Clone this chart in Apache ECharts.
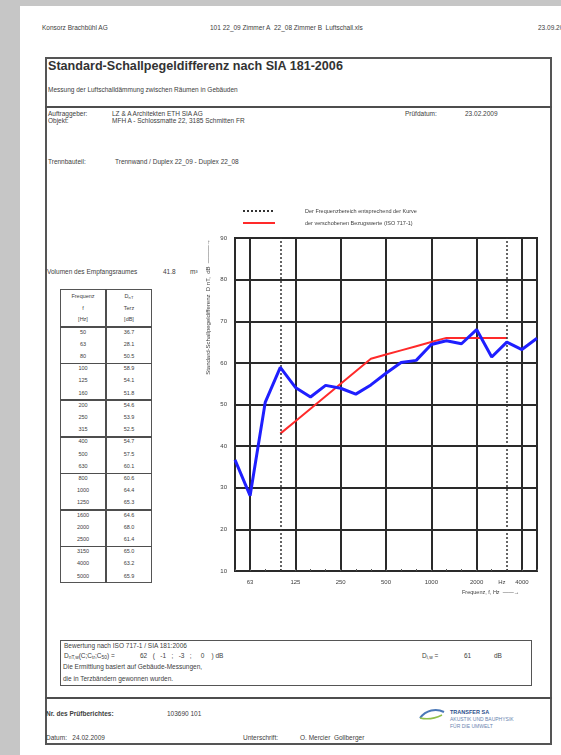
<!DOCTYPE html>
<html>
<head>
<meta charset="utf-8">
<script src="https://cdn.jsdelivr.net/npm/echarts@6/dist/echarts.min.js"></script>
<style>
  body { margin: 0; width: 561px; height: 755px; background: #c6c6c6; font-family: "Liberation Sans", Arial, sans-serif; color: #404040; overflow: hidden; }
  #page { position: absolute; left: 20px; top: 6px; width: 541px; height: 749px; background: #fff; }
  .t { position: absolute; font-size: 6.5px; line-height: 1; white-space: nowrap; }
  .c { transform: translateX(-50%); }
  .ln { position: absolute; background: #4e4e4e; }
  .box { position: absolute; box-sizing: border-box; border: 2px solid #555; }
  sub { font-size: 0.75em; vertical-align: -0.25em; }
  #chart { position: absolute; left: 0; top: 0; width: 561px; height: 755px; }
</style>
</head>
<body>
<div id="page"></div>

<!-- page header -->
<div class="t" style="left:42px;top:25px">Konsorz Brachbühl AG</div>
<div class="t" style="left:210px;top:25px">101 22_09 Zimmer A&nbsp;&nbsp;22_08 Zimmer B&nbsp;&nbsp;Luftschall.xls</div>
<div class="t" style="left:538px;top:25px">23.09.2009</div>

<!-- frame -->
<div class="box" style="left:45px;top:57px;width:507px;height:688px"></div>
<div class="ln" style="left:45px;top:106px;width:507px;height:2px"></div>
<div class="ln" style="left:45px;top:697px;width:507px;height:2px"></div>

<div class="t" style="left:48px;top:60px;font-size:12.6px;font-weight:bold;color:#333">Standard-Schallpegeldifferenz nach SIA 181-2006</div>
<div class="t" style="left:48px;top:87px">Messung der Luftschalldämmung zwischen Räumen in Gebäuden</div>

<div class="t" style="left:48px;top:111px">Auftraggeber:</div>
<div class="t" style="left:112px;top:111px">LZ &amp; A Architekten ETH SIA AG</div>
<div class="t" style="left:405px;top:111px">Prüfdatum:</div>
<div class="t" style="left:465px;top:111px">23.02.2009</div>
<div class="t" style="left:48px;top:118px">Objekt:</div>
<div class="t" style="left:112px;top:118px">MFH A - Schlossmatte 22, 3185 Schmitten FR</div>

<div class="t" style="left:48px;top:159px">Trennbauteil:</div>
<div class="t" style="left:115px;top:159px">Trennwand / Duplex 22_09 - Duplex 22_08</div>

<div class="t" style="left:47px;top:269px">Volumen des Empfangsraumes</div>
<div class="t" style="left:163px;top:269px">41.8</div>
<div class="t" style="left:190px;top:269px">m³</div>

<!-- value table -->
<div id="tbl"></div>

<!-- evaluation box -->
<div class="box" style="left:60px;top:640px;width:472px;height:46px;border-width:1.5px"></div>
<div class="t" style="left:64px;top:643px">Bewertung nach ISO 717-1 / SIA 181:2006</div>
<div class="t" style="left:64px;top:653px">D<sub>nT,w</sub>(C;C<sub>tr</sub>;C<sub>50</sub>) =</div>
<div class="t" style="left:140px;top:653px">62&nbsp;&nbsp;&nbsp;(&nbsp;&nbsp;&nbsp;-1&nbsp;&nbsp;&nbsp;;&nbsp;&nbsp;&nbsp;-3&nbsp;&nbsp;&nbsp;;&nbsp;&nbsp;&nbsp;&nbsp;&nbsp;0&nbsp;&nbsp;&nbsp;&nbsp;)&nbsp;dB</div>
<div class="t" style="left:422px;top:653px">D<sub>i,w</sub> =</div>
<div class="t" style="left:464px;top:653px">61</div>
<div class="t" style="left:494px;top:653px">dB</div>
<div class="t" style="left:63px;top:664px">Die Ermittlung basiert auf Gebäude-Messungen,</div>
<div class="t" style="left:63px;top:676px">die in Terzbändern gewonnen wurden.</div>

<!-- footer -->
<div class="t" style="left:46px;top:711px;font-weight:bold">Nr. des Prüfberichtes:</div>
<div class="t" style="left:167px;top:711px">103690 101</div>
<div class="t" style="left:46px;top:735px">Datum:&nbsp;&nbsp;&nbsp;24.02.2009</div>
<div class="t" style="left:243px;top:735px">Unterschrift:</div>
<div class="t" style="left:300px;top:735px">O. Mercier&nbsp;&nbsp;Gollberger</div>
<svg style="position:absolute;left:418px;top:706px" width="28" height="16">
  <path d="M2 12 C 8 4, 18 2, 26 6" stroke="#4a78b8" stroke-width="2" fill="none"/>
  <path d="M2 12 C 10 14, 18 12, 24 9" stroke="#8fbf4a" stroke-width="1.5" fill="none"/>
</svg>
<div class="t" style="left:450px;top:710px;font-size:5.5px;color:#2c4f8c;font-weight:bold">TRANSFER SA</div>
<div class="t" style="left:450px;top:717px;font-size:5px;color:#6a85b0">AKUSTIK UND BAUPHYSIK</div>
<div class="t" style="left:450px;top:724px;font-size:5px;color:#6a85b0">FÜR DIE UMWELT</div>

<div id="chart"></div>

<script>
// third-octave bands and measured values (also listed in the table)
const freqs = ['50', '63', '80', '100', '125', '160', '200', '250', '315', '400', '500',
    '630', '800', '1000', '1250', '1600', '2000', '2500', '3150', '4000', '5000'];
const dntTerz = [36.7, 28.1, 50.5, 58.9, 54.1, 51.8, 54.6, 53.9, 52.5, 54.7, 57.5,
    60.1, 60.6, 64.4, 65.3, 64.6, 68.0, 61.4, 65.0, 63.2, 65.9];
// ISO 717-1 reference curve shifted by +10 dB (100 .. 3150 Hz)
const refShifted = [null, null, null, 43, 46, 49, 52, 55, 58, 61, 62,
    63, 64, 65, 66, 66, 66, 66, 66, null, null];
const xTickLabels = ['', '63', '', '', '125', '', '', '250', '', '', '500',
    '', '', '1000', '', '', '2000', '', 'Hz', '4000', ''];
const majorFreqs = ['63', '125', '250', '500', '1000', '2000', '4000'];
const rangeFreqs = ['100', '3150'];
const yMin = 10, yMax = 90, yStep = 10;

const rangeName = 'Der Frequenzbereich entsprechend der Kurve';
const refName = 'der verschobenen Bezugswerte (ISO 717-1)';

// table on the left
const tbl = document.getElementById('tbl');
const add = (html, style, cls) => {
    const d = document.createElement('div');
    d.className = cls || 't c';
    d.style.cssText = style;
    d.innerHTML = html;
    tbl.appendChild(d);
};
const tL = 60, tM = 106, tR = 152, tTop = 289, hBot = 327, grp = 36.6, row = 12.2;
add('', `left:${tL}px;top:${tTop}px;width:${tR - tL}px;height:${hBot + 7 * grp - tTop}px;border-width:1.5px`, 'box');
add('', `left:${tM - 0.75}px;top:${tTop}px;width:1.5px;height:${hBot + 7 * grp - tTop}px`, 'ln');
add('', `left:${tL}px;top:${hBot - 1.5}px;width:${tR - tL}px;height:2.5px`, 'ln');
for (let g = 1; g < 7; g++) {
    add('', `left:${tL}px;top:${hBot + g * grp - 0.75}px;width:${tR - tL}px;height:1.5px`, 'ln');
}
const c1 = (tL + tM) / 2, c2 = (tM + tR) / 2;
['Frequenz', 'f', '[Hz]'].forEach((s, i) => add(s, `left:${c1}px;top:${294 + i * 11.5}px;font-size:5.5px`));
['D<sub>nT</sub>', 'Terz', '[dB]'].forEach((s, i) => add(s, `left:${c2}px;top:${294 + i * 11.5}px;font-size:5.5px`));
freqs.forEach((f, i) => {
    const y = hBot + Math.floor(i / 3) * grp + (i % 3) * row + 2.5;
    add(f, `left:${c1}px;top:${y}px;font-size:5.5px`);
    add(dntTerz[i].toFixed(1), `left:${c2}px;top:${y}px;font-size:5.5px`);
});

const chart = echarts.init(document.getElementById('chart'));
const ink = '#2a2a2a';

const option = {
    backgroundColor: 'transparent',
    animation: false,
    grid: {
        left: 235,
        right: 24,
        top: 238,
        bottom: 184,
        show: true,
        borderColor: ink,
        borderWidth: 2,
        backgroundColor: 'transparent'
    },
    legend: {
        data: [rangeName, refName],
        orient: 'vertical',
        left: 237,
        top: 203,
        itemWidth: 32,
        itemHeight: 6,
        itemGap: 6,
        itemStyle: { opacity: 0 },
        textStyle: {
            fontSize: 5.5,
            color: '#404040',
            fontFamily: 'Liberation Sans',
            padding: [0, 0, 0, 25]
        }
    },
    xAxis: {
        type: 'category',
        data: freqs,
        boundaryGap: false,
        axisLine: { lineStyle: { color: ink, width: 2 } },
        axisTick: {
            show: true,
            interval: 0,
            inside: true,
            length: 2,
            lineStyle: { color: '#555' }
        },
        axisLabel: {
            interval: 0,
            fontSize: 6,
            color: '#404040',
            margin: 8,
            fontFamily: 'Liberation Sans',
            formatter: (v, i) => xTickLabels[i] === 'Hz' ? '{hz|Hz}' : xTickLabels[i],
            rich: { hz: { fontSize: 6, color: '#404040', padding: [0, 10, 0, 0] } }
        },
        splitLine: {
            show: true,
            interval: (i, v) => majorFreqs.includes(v),
            lineStyle: { color: ink, width: 2 }
        }
    },
    yAxis: {
        type: 'value',
        min: yMin,
        max: yMax,
        interval: yStep,
        axisLine: { show: true, lineStyle: { color: ink, width: 2 } },
        axisTick: { show: false },
        axisLabel: { fontSize: 6, color: '#404040', margin: 8, fontFamily: 'Liberation Sans' },
        splitLine: { lineStyle: { color: ink, width: 2 } }
    },
    graphic: [
        {
            type: 'text',
            x: 208,
            y: 307,
            rotation: Math.PI / 2,
            style: {
                text: 'Standard-Schallpegeldifferenz  D nT,  dB  ———→',
                fontSize: 6,
                fill: '#404040',
                fontFamily: 'Liberation Sans',
                align: 'center',
                verticalAlign: 'middle'
            }
        },
        {
            type: 'text',
            x: 462,
            y: 592,
            style: {
                text: 'Frequenz, f, Hz  ——→',
                fontSize: 5.5,
                fill: '#404040',
                fontFamily: 'Liberation Sans',
                verticalAlign: 'middle'
            }
        }
    ],
    series: [
        {
            name: 'DnT Terz',
            type: 'line',
            data: dntTerz,
            symbol: 'none',
            z: 5,
            lineStyle: { color: '#1f1fff', width: 3 }
        },
        {
            name: refName,
            type: 'line',
            data: refShifted,
            symbol: 'none',
            z: 4,
            itemStyle: { color: '#ff2a2a' },
            lineStyle: { color: '#ff2a2a', width: 2 }
        },
        {
            name: rangeName,
            type: 'line',
            data: [],
            symbol: 'none',
            itemStyle: { color: '#333' },
            lineStyle: { color: '#333', width: 1.5, type: [2, 2] },
            markLine: {
                silent: true,
                symbol: 'none',
                label: { show: false },
                lineStyle: { color: '#333', width: 1.5, type: [2, 2] },
                data: rangeFreqs.map(f => ({ xAxis: f }))
            }
        }
    ]
};

chart.setOption(option);
</script>
</body>
</html>
